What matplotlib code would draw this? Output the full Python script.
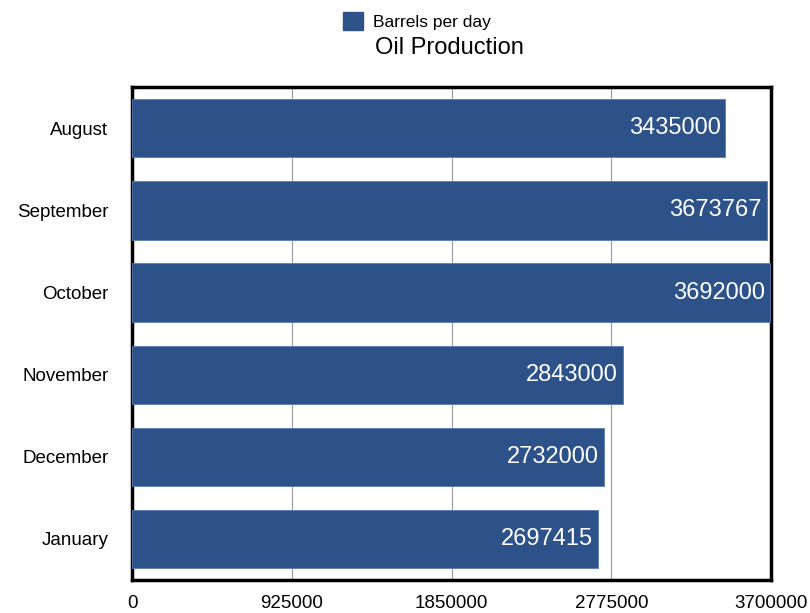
import matplotlib.pyplot as plt
from matplotlib.patches import Patch

months = ["August", "September", "October", "November", "December", "January"]
barrels = [3435000, 3673767, 3692000, 2843000, 2732000, 2697415]
xticks = [0, 925000, 1850000, 2775000, 3700000]

BAR_COLOR = "#2d5189"

plt.rcParams["font.family"] = ["Liberation Sans", "DejaVu Sans"]

fig = plt.figure(figsize=(8.1, 6.13), dpi=100)
ax = fig.add_axes([0.163, 0.0538, 0.789, 0.804])

pos = list(range(len(months)))
ax.barh(pos, barrels, height=0.71, color=BAR_COLOR, edgecolor="#5a7bb0",
        linewidth=0.6, zorder=3)

# value written inside the right end of each bar
for y, v in zip(pos, barrels):
    ax.annotate(str(v), xy=(v, y), xytext=(-3.5, 0), textcoords="offset points",
                ha="right", va="center", color="white", fontsize=17, zorder=4)

ax.set_xlim(0, 3700000)
ax.set_ylim(len(months) - 0.5, -0.5)
ax.set_yticks(pos)
ax.set_yticklabels(months, fontsize=13.5)
ax.set_xticks(xticks)
ax.set_xticklabels([str(t) for t in xticks], fontsize=13.5)
ax.tick_params(axis="y", length=0, pad=17)
ax.tick_params(axis="x", length=0, pad=11)

ax.grid(axis="x", color="#9a9a9a", linewidth=0.8, zorder=0)
for s in ax.spines.values():
    s.set_linewidth(2.5)
    s.set_color("black")

handle = Patch(facecolor=BAR_COLOR, edgecolor=BAR_COLOR)
fig.legend([handle], ["Barrels per day"], loc="center left",
           bbox_to_anchor=(0.4235, 0.9657), frameon=False, fontsize=12.5,
           borderpad=0, borderaxespad=0, handlelength=1.15, handleheight=1.15,
           handletextpad=0.6)
fig.text(0.463, 0.922, "Oil Production", ha="left", va="center", fontsize=17)

fig.savefig("out.png", dpi=100)
